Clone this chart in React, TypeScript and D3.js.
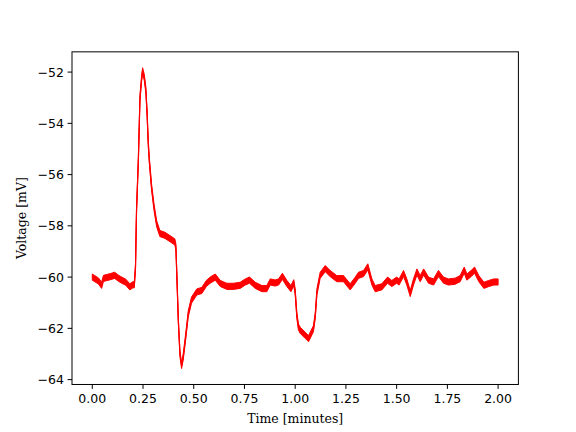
import React from "react";
import * as d3 from "d3";

const timeMin = [
  0.0, 0.01, 0.02, 0.03, 0.046, 0.055, 0.07, 0.09, 0.11, 0.13, 0.145, 0.165, 0.185, 0.2, 0.207,
  0.213, 0.218, 0.227, 0.235, 0.243, 0.248, 0.256, 0.264, 0.27, 0.276, 0.281, 0.292, 0.304, 0.317,
  0.333, 0.358, 0.383, 0.407, 0.412, 0.417, 0.424, 0.432, 0.44, 0.448, 0.46, 0.473, 0.489,
  0.515, 0.54, 0.562, 0.581, 0.606, 0.631, 0.663, 0.696, 0.729, 0.754, 0.775, 0.803, 0.836,
  0.86, 0.877, 0.901, 0.918, 0.937, 0.959, 0.979, 0.993, 1.0, 1.008, 1.016, 1.025, 1.049,
  1.066, 1.09, 1.099, 1.107, 1.123, 1.148, 1.172, 1.205, 1.238, 1.271, 1.296, 1.312, 1.337,
  1.358, 1.378, 1.394, 1.427, 1.455, 1.476, 1.5, 1.512, 1.534, 1.55, 1.567, 1.583, 1.6, 1.616,
  1.633, 1.657, 1.682, 1.706, 1.731, 1.755, 1.788, 1.813, 1.833, 1.846, 1.867, 1.884, 1.905,
  1.93, 1.954, 1.979, 2.0,
];

const voltageMv = [
  -60.0, -60.05, -60.1, -60.15, -60.32, -60.05, -60.02, -59.98, -59.93, -60.05, -60.12, -60.2,
  -60.38, -60.3, -60.3, -59.6, -57.4, -55.44, -53.0, -52.25, -51.95, -52.2, -52.7, -53.6,
  -54.8, -55.44, -56.48, -57.26, -57.91, -58.3, -58.37, -58.5, -58.63, -58.82, -60.0, -61.69,
  -62.99, -63.45, -63.12, -62.34, -61.43, -60.9, -60.58, -60.52, -60.25, -60.12, -60.0, -60.25,
  -60.36, -60.36, -60.32, -60.19, -60.12, -60.32, -60.45, -60.45, -60.19, -60.23, -60.19,
  -59.97, -60.25, -60.45, -60.22, -60.58, -61.49, -61.95, -62.08, -62.27, -62.4, -62.01,
  -61.49, -60.58, -59.93, -59.67, -59.86, -60.06, -60.06, -60.38, -60.12, -59.93, -59.86,
  -59.6, -60.19, -60.45, -60.38, -60.12, -60.25, -60.12, -60.19, -59.86, -60.19, -60.64,
  -60.19, -59.8, -60.06, -59.8, -60.12, -60.19, -59.86, -60.12, -60.19, -60.16, -60.06,
  -59.73, -60.0, -59.86, -59.73, -60.06, -60.32, -60.25, -60.19, -60.19,
];

const noiseHalfWidthMv = 0.12;

const xTicks = [0.0, 0.25, 0.5, 0.75, 1.0, 1.25, 1.5, 1.75, 2.0];
const yTicks = [-64, -62, -60, -58, -56, -54, -52];
const xDomain = [-0.1, 2.1];
const yDomain = [-64.19, -51.21];

const W = 576;
const H = 432;
const left = 72;
const right = 518.4;
const top = 51.84;
const bottom = 384.48;

export default function App() {
  const x = d3.scaleLinear().domain(xDomain).range([left, right]);
  const y = d3.scaleLinear().domain(yDomain).range([bottom, top]);
  const pts = timeMin.map((t, i) => ({ t, v: voltageMv[i] }));
  const area = d3
    .area<{ t: number; v: number }>()
    .x((d) => x(d.t))
    .y0((d) => y(d.v - noiseHalfWidthMv))
    .y1((d) => y(d.v + noiseHalfWidthMv));
  const line = d3
    .line<{ t: number; v: number }>()
    .x((d) => x(d.t))
    .y((d) => y(d.v));
  const fmtX = d3.format(".2f");
  const fmtY = (v: number) => (v < 0 ? "\u2212" + Math.abs(v) : String(v));
  const tickFont = "DejaVu Sans, sans-serif";
  const labelFont = "DejaVu Serif, serif";
  return (
    <svg
      width={W}
      height={H}
      style={{ position: "absolute", left: 0, top: 0, background: "#fff" }}
    >
      <rect x={0} y={0} width={W} height={H} fill="#fff" />
      <defs>
        <clipPath id="plotclip">
          <rect x={left} y={top} width={right - left} height={bottom - top} />
        </clipPath>
      </defs>
      <g clipPath="url(#plotclip)">
        <path d={area(pts) || ""} fill="#ff0000" stroke="#ff0000" strokeWidth={1} strokeLinejoin="round" />
        <path d={line(pts) || ""} fill="none" stroke="#ff0000" strokeWidth={1.2} />
      </g>
      <rect
        x={left}
        y={top}
        width={right - left}
        height={bottom - top}
        fill="none"
        stroke="#000"
        strokeWidth={1}
      />
      {xTicks.map((t) => (
        <g key={"x" + t}>
          <line x1={x(t)} x2={x(t)} y1={bottom} y2={bottom + 4.4} stroke="#000" strokeWidth={1} />
          <text
            x={x(t)}
            y={bottom + 18.5}
            textAnchor="middle"
            fontFamily={tickFont}
            fontSize={12.5}
            fill="#000"
          >
            {fmtX(t)}
          </text>
        </g>
      ))}
      {yTicks.map((v) => (
        <g key={"y" + v}>
          <line x1={left - 4.4} x2={left} y1={y(v)} y2={y(v)} stroke="#000" strokeWidth={1} />
          <text
            x={left - 8}
            y={y(v)}
            dy="0.36em"
            textAnchor="end"
            fontFamily={tickFont}
            fontSize={12.5}
            fill="#000"
          >
            {fmtY(v)}
          </text>
        </g>
      ))}
      <text
        x={(left + right) / 2}
        y={423}
        textAnchor="middle"
        fontFamily={labelFont}
        fontSize={12.5}
        fill="#000"
      >
        Time [minutes]
      </text>
      <text
        transform={`translate(26,${(top + bottom) / 2}) rotate(-90)`}
        textAnchor="middle"
        fontFamily={labelFont}
        fontSize={12.5}
        fill="#000"
      >
        Voltage [mV]
      </text>
    </svg>
  );
}
